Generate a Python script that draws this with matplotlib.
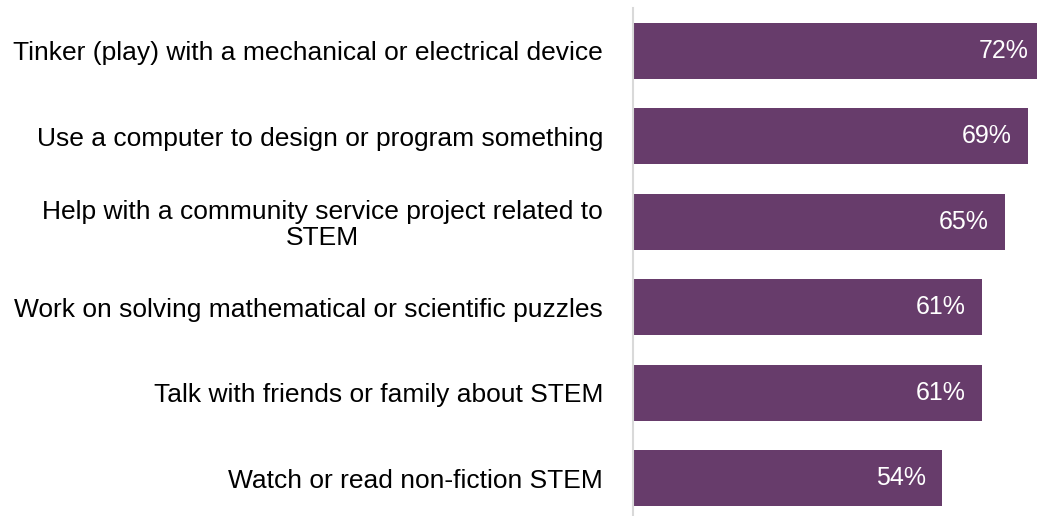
import matplotlib.pyplot as plt

# STEM activities and share of respondents
activities = [
    'Tinker (play) with a mechanical or electrical device',
    'Use a computer to design or program something',
    'Help with a community service project related to\nSTEM',
    'Work on solving mathematical or scientific puzzles',
    'Talk with friends or family about STEM',
    'Watch or read non-fiction STEM',
]
shares = [72, 69, 65, 61, 61, 54]

plt.rcParams['font.family'] = ['Liberation Sans', 'DejaVu Sans']

fig = plt.figure(figsize=(10.37, 5.16), dpi=100)
ax = fig.add_axes([633/1037, 0.0, 1 - 633/1037, 508/516])

ypos = list(range(len(activities)))
bars = ax.barh(ypos, shares, height=0.655, color='#673C6B', zorder=2)

ax.set_xlim(0, 70.6)
ax.set_ylim(5.44, -0.50)

ax.set_yticks(ypos)
ax.set_yticklabels(activities, fontsize=19, multialignment='center',
                   linespacing=1.1)
ax.tick_params(axis='y', length=0, pad=21.6)
ax.set_xticks([])

for s in ['top', 'right', 'bottom']:
    ax.spines[s].set_visible(False)
ax.spines['left'].set_color('#D9D9D9')
ax.spines['left'].set_linewidth(1.5)

# value labels inside the bar ends
for b, v in zip(bars, shares):
    ax.annotate(f'{v}%', xy=(v, b.get_y() + b.get_height() / 2),
                xytext=(-16, 0), textcoords='offset pixels',
                ha='right', va='center', color='white', fontsize=18,
                annotation_clip=False)

fig.savefig('out.png', dpi=100)
